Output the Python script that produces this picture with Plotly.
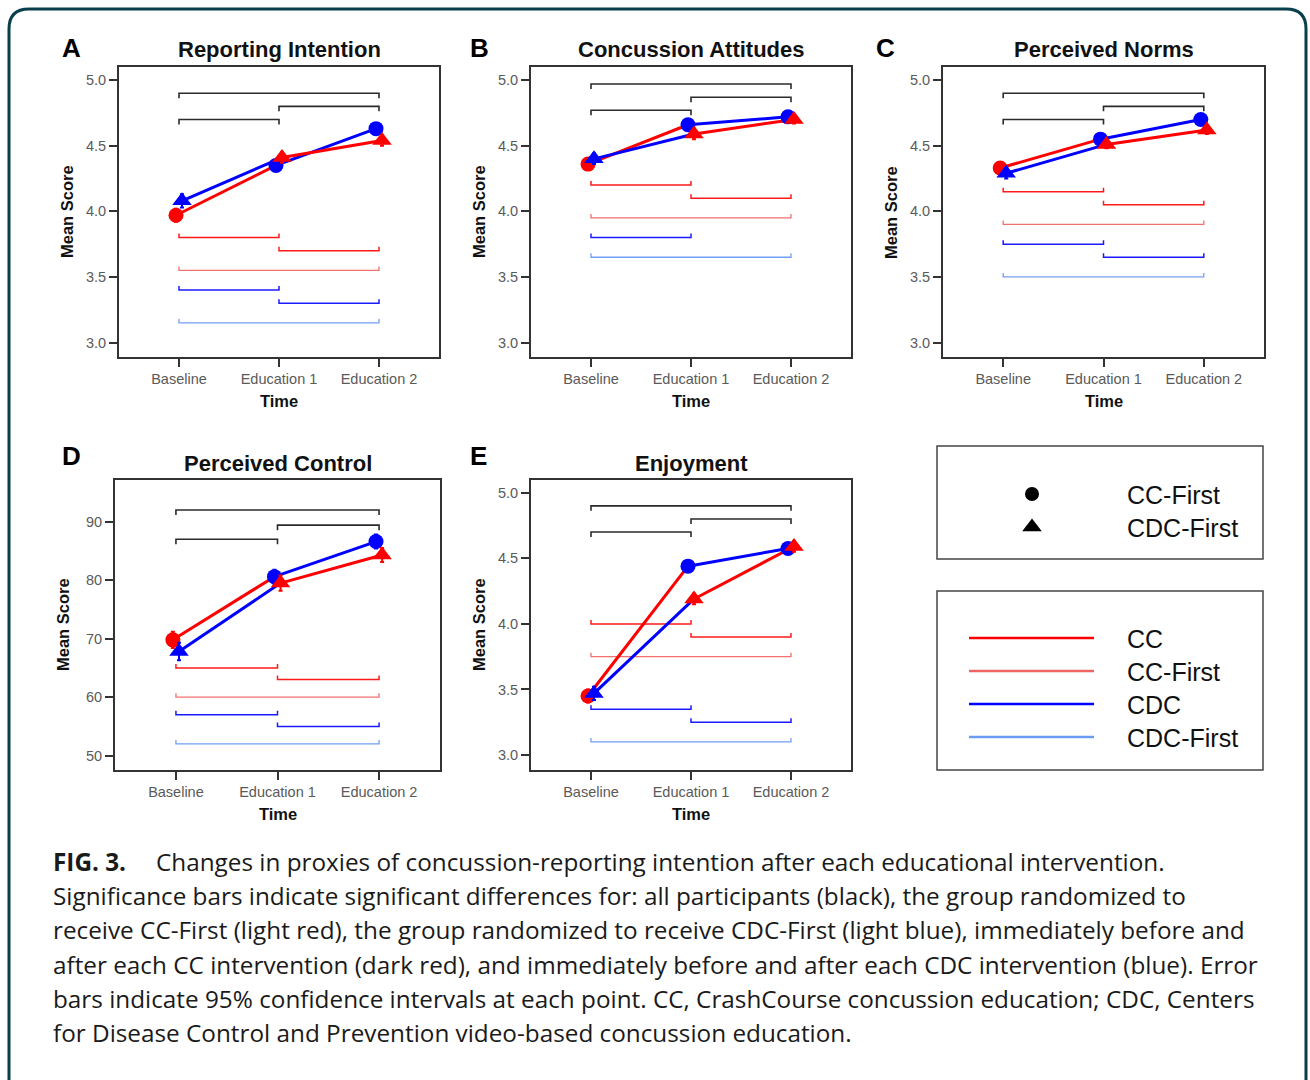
import plotly.graph_objects as go

W, H = 1310, 1080

# ---------------- data ----------------
categories = ["Baseline", "Education 1", "Education 2"]
panel_letters = ["A", "B", "C", "D", "E"]
panel_titles = ["Reporting Intention", "Concussion Attitudes", "Perceived Norms",
                "Perceived Control", "Enjoyment"]

# group means (circle = CC-First group, triangle = CDC-First group)
cc_first_means = {
    "A": [3.97, 4.35, 4.63],
    "B": [4.36, 4.66, 4.72],
    "C": [4.33, 4.55, 4.70],
    "D": [69.8, 80.6, 86.6],
    "E": [3.45, 4.44, 4.575],
}
cdc_first_means = {
    "A": [4.08, 4.41, 4.54],
    "B": [4.40, 4.59, 4.70],
    "C": [4.29, 4.51, 4.62],
    "D": [67.8, 79.5, 84.3],
    "E": [3.47, 4.19, 4.59],
}
# 95% CI half widths
cc_first_ci = {
    "A": [0.05, 0.04, 0.03], "B": [0.04, 0.03, 0.03], "C": [0.04, 0.03, 0.03],
    "D": [1.4, 1.2, 1.2], "E": [0.05, 0.04, 0.04],
}
cdc_first_ci = {
    "A": [0.05, 0.04, 0.04], "B": [0.04, 0.04, 0.03], "C": [0.04, 0.03, 0.03],
    "D": [1.5, 1.3, 1.2], "E": [0.05, 0.04, 0.04],
}

# significance bars: (group, start category index, end category index, y)
sig_bars = {
    "A": [("all", 0, 2, 4.90), ("all", 1, 2, 4.80), ("all", 0, 1, 4.70),
          ("CC", 0, 1, 3.80), ("CC", 1, 2, 3.70), ("CC-First", 0, 2, 3.55),
          ("CDC", 0, 1, 3.40), ("CDC", 1, 2, 3.30), ("CDC-First", 0, 2, 3.15)],
    "B": [("all", 0, 2, 4.97), ("all", 1, 2, 4.87), ("all", 0, 1, 4.77),
          ("CC", 0, 1, 4.20), ("CC", 1, 2, 4.10), ("CC-First", 0, 2, 3.95),
          ("CDC", 0, 1, 3.80), ("CDC-First", 0, 2, 3.65)],
    "C": [("all", 0, 2, 4.90), ("all", 1, 2, 4.80), ("all", 0, 1, 4.70),
          ("CC", 0, 1, 4.15), ("CC", 1, 2, 4.05), ("CC-First", 0, 2, 3.90),
          ("CDC", 0, 1, 3.75), ("CDC", 1, 2, 3.65), ("CDC-First", 0, 2, 3.50)],
    "D": [("all", 0, 2, 92.0), ("all", 1, 2, 89.4), ("all", 0, 1, 87.0),
          ("CC", 0, 1, 65.0), ("CC", 1, 2, 63.0), ("CC-First", 0, 2, 60.0),
          ("CDC", 0, 1, 57.0), ("CDC", 1, 2, 55.0), ("CDC-First", 0, 2, 52.0)],
    "E": [("all", 0, 2, 4.90), ("all", 1, 2, 4.80), ("all", 0, 1, 4.70),
          ("CC", 0, 1, 4.00), ("CC", 1, 2, 3.90), ("CC-First", 0, 2, 3.75),
          ("CDC", 0, 1, 3.35), ("CDC", 1, 2, 3.25), ("CDC-First", 0, 2, 3.10)],
}

y_ticks = {
    "A": [3.0, 3.5, 4.0, 4.5, 5.0], "B": [3.0, 3.5, 4.0, 4.5, 5.0],
    "C": [3.0, 3.5, 4.0, 4.5, 5.0], "D": [50, 60, 70, 80, 90],
    "E": [3.0, 3.5, 4.0, 4.5, 5.0],
}
y_tick_text = {
    "A": ["3.0", "3.5", "4.0", "4.5", "5.0"], "B": ["3.0", "3.5", "4.0", "4.5", "5.0"],
    "C": ["3.0", "3.5", "4.0", "4.5", "5.0"], "D": ["50", "60", "70", "80", "90"],
    "E": ["3.0", "3.5", "4.0", "4.5", "5.0"],
}

shape_legend_labels = ["CC-First", "CDC-First"]
line_legend_labels = ["CC", "CC-First", "CDC", "CDC-First"]

caption_head = "FIG. 3."
caption_lines = [
    "Changes in proxies of concussion-reporting intention after each educational intervention.",
    "Significance bars indicate significant differences for: all participants (black), the group randomized to",
    "receive CC-First (light red), the group randomized to receive CDC-First (light blue), immediately before and",
    "after each CC intervention (dark red), and immediately before and after each CDC intervention (blue). Error",
    "bars indicate 95% confidence intervals at each point. CC, CrashCourse concussion education; CDC, Centers",
    "for Disease Control and Prevention video-based concussion education.",
]

# ---------------- styles / layout ----------------
RED, BLUE = "#ff0000", "#0000ff"
COLORS = {"all": "#2b2b2b", "CC": "#ff1a1a", "CC-First": "#f27070",
          "CDC": "#1a1aff", "CDC-First": "#70a0f5"}
LEG_COLORS = {"CC": "#ff0000", "CC-First": "#f06464", "CDC": "#0000ff", "CDC-First": "#6b9cf5"}
FONT = "Liberation Sans, Arial, sans-serif"
CAP_FONT = "Open Sans, sans-serif"

# panel boxes in pixels: left, right, top, bottom
boxes = {
    "A": (119, 439, 67, 357),
    "B": (531, 851, 67, 357),
    "C": (943, 1264, 67, 357),
    "D": (115, 440, 480, 770),
    "E": (531, 851, 480, 770),
}
y_ranges = {"A": [2.89, 5.10], "B": [2.89, 5.10], "C": [2.89, 5.10],
            "D": [47.55, 97.12], "E": [2.886, 5.097]}
letter_pos = {"A": (71, 48), "B": (479, 48), "C": (885, 48), "D": (71, 456), "E": (478, 456)}

# segment colors and marker colors per group (CC-First receives CC then CDC)
circ_seg_colors = [RED, BLUE]
tri_seg_colors = [BLUE, RED]
circ_pt_colors = [RED, BLUE, BLUE]
tri_pt_colors = [BLUE, RED, RED]
DODGE = 0.03


def px(x):
    return x / W


def py(y):
    return 1 - y / H


fig = go.Figure()
annotations = []
shapes = []

for i, key in enumerate(panel_letters):
    n = i + 1
    xa = "x" if n == 1 else f"x{n}"
    ya = "y" if n == 1 else f"y{n}"
    left, right, top, bottom = boxes[key]
    yr = y_ranges[key]
    units_per_px = (yr[1] - yr[0]) / (bottom - top)
    xs = [1, 2, 3]

    # significance bars
    for grp, a, b, yv in sig_bars[key]:
        if grp == "all":
            t = -5 * units_per_px
            w = 1.6
        else:
            t = 4 * units_per_px
            w = 1.5 if grp in ("CC", "CDC") else 1.3
        x0, x1 = xs[a], xs[b]
        fig.add_trace(go.Scatter(
            x=[x0, x0, x1, x1], y=[yv + t, yv, yv, yv + t], mode="lines",
            line=dict(color=COLORS[grp], width=w), xaxis=xa, yaxis=ya,
            showlegend=False, hoverinfo="skip"))

    # group lines
    cm, tm = cc_first_means[key], cdc_first_means[key]
    cx = [x - DODGE for x in xs]
    tx = [x + DODGE for x in xs]
    for s in range(2):
        fig.add_trace(go.Scatter(x=cx[s:s + 2], y=cm[s:s + 2], mode="lines",
                                 line=dict(color=circ_seg_colors[s], width=3),
                                 xaxis=xa, yaxis=ya, showlegend=False, hoverinfo="skip"))
        fig.add_trace(go.Scatter(x=tx[s:s + 2], y=tm[s:s + 2], mode="lines",
                                 line=dict(color=tri_seg_colors[s], width=3),
                                 xaxis=xa, yaxis=ya, showlegend=False, hoverinfo="skip"))
    # markers with error bars
    for k in range(3):
        fig.add_trace(go.Scatter(
            x=[cx[k]], y=[cm[k]], mode="markers",
            marker=dict(symbol="circle", size=15, color=circ_pt_colors[k], line=dict(width=0)),
            error_y=dict(type="data", array=[cc_first_ci[key][k]], color=circ_pt_colors[k],
                         thickness=2, width=2),
            xaxis=xa, yaxis=ya, showlegend=False))
    for k in range(3):
        fig.add_trace(go.Scatter(
            x=[tx[k]], y=[tm[k]], mode="markers",
            marker=dict(symbol="triangle-up", size=17, color=tri_pt_colors[k], line=dict(width=0)),
            error_y=dict(type="data", array=[cdc_first_ci[key][k]], color=tri_pt_colors[k],
                         thickness=2, width=2),
            xaxis=xa, yaxis=ya, showlegend=False))

    xkey = "xaxis" if n == 1 else f"xaxis{n}"
    ykey = "yaxis" if n == 1 else f"yaxis{n}"
    fig.layout[xkey] = dict(
        domain=[px(left), px(right)], anchor=ya, range=[0.4, 3.6],
        tickvals=xs, ticktext=categories, ticks="outside", ticklen=8, tickwidth=2,
        tickcolor="#333333", showline=True, mirror=True, linecolor="#333333", linewidth=2,
        showgrid=False, zeroline=False, fixedrange=True,
        tickfont=dict(family=FONT, size=14.5, color="#5a5a5a"))
    fig.layout[ykey] = dict(
        domain=[py(bottom), py(top)], anchor=xa, range=yr,
        tickvals=y_ticks[key], ticktext=y_tick_text[key], ticks="outside", ticklen=8,
        tickwidth=1.5, tickcolor="#333333", showline=True, mirror=True,
        linecolor="#333333", linewidth=2, showgrid=False, zeroline=False, fixedrange=True,
        tickfont=dict(family=FONT, size=14.5, color="#5a5a5a"))

    cxp = (left + right) / 2
    # title
    annotations.append(dict(text=f"<b>{panel_titles[i]}</b>", x=px(cxp), y=py(top - 17),
                            xref="paper", yref="paper", showarrow=False,
                            xanchor="center", yanchor="middle",
                            font=dict(family=FONT, size=22, color="#111111")))
    # letter
    lx, ly = letter_pos[key]
    annotations.append(dict(text=f"<b>{key}</b>", x=px(lx), y=py(ly), xref="paper", yref="paper",
                            showarrow=False, xanchor="center", yanchor="middle",
                            font=dict(family=FONT, size=26, color="#000000")))
    # axis titles
    annotations.append(dict(text="<b>Mean Score</b>", x=px(left - 52), y=py((top + bottom) / 2),
                            xref="paper", yref="paper", showarrow=False, textangle=-90,
                            xanchor="center", yanchor="middle",
                            font=dict(family=FONT, size=16.5, color="#111111")))
    annotations.append(dict(text="<b>Time</b>", x=px(cxp), y=py(bottom + 44),
                            xref="paper", yref="paper", showarrow=False,
                            xanchor="center", yanchor="middle",
                            font=dict(family=FONT, size=16.5, color="#111111")))

# ---------------- legend boxes ----------------
LX0, LX1 = 937, 1263
shapes.append(dict(type="rect", xref="paper", yref="paper", x0=px(LX0), x1=px(LX1),
                   y0=py(559), y1=py(446), line=dict(color="#444444", width=1.5)))
shapes.append(dict(type="rect", xref="paper", yref="paper", x0=px(LX0), x1=px(LX1),
                   y0=py(770), y1=py(591), line=dict(color="#444444", width=1.5)))

# hidden axis for legend symbols, pixel units
fig.layout["xaxis6"] = dict(domain=[px(LX0 + 2), px(LX1 - 2)], range=[LX0 + 2, LX1 - 2],
                            visible=False, anchor="y6", fixedrange=True)
fig.layout["yaxis6"] = dict(domain=[py(768), py(448)], range=[768, 448], visible=False,
                            anchor="x6", fixedrange=True)
sym = ["circle", "triangle-up"]
sym_size = [14, 17]
for j, lab in enumerate(shape_legend_labels):
    yy = 494 + j * 33
    fig.add_trace(go.Scatter(x=[1032], y=[yy], mode="markers",
                             marker=dict(symbol=sym[j], size=sym_size[j], color="#000000"),
                             xaxis="x6", yaxis="y6", showlegend=False, hoverinfo="skip"))
    annotations.append(dict(text=lab, x=px(1125), y=py(yy + 1), xref="paper", yref="paper",
                            showarrow=False, xanchor="left", yanchor="middle",
                            font=dict(family=FONT, size=25, color="#111111")))
for j, lab in enumerate(line_legend_labels):
    yy = 638 + j * 33
    fig.add_trace(go.Scatter(x=[969, 1094], y=[yy, yy], mode="lines",
                             line=dict(color=LEG_COLORS[lab], width=2.5),
                             xaxis="x6", yaxis="y6", showlegend=False, hoverinfo="skip"))
    annotations.append(dict(text=lab, x=px(1125), y=py(yy + 1), xref="paper", yref="paper",
                            showarrow=False, xanchor="left", yanchor="middle",
                            font=dict(family=FONT, size=25, color="#111111")))

# ---------------- caption ----------------
cap_y = [861, 895, 929, 964, 998, 1032]
annotations.append(dict(text=f"<b>{caption_head}</b>", x=px(51), y=py(cap_y[0]), xref="paper",
                        yref="paper", showarrow=False, xanchor="left", yanchor="middle",
                        font=dict(family=CAP_FONT, size=24.3, color="#1a1a1a")))
for j, line in enumerate(caption_lines):
    annotations.append(dict(text=line, x=px(154 if j == 0 else 51), y=py(cap_y[j]),
                            xref="paper", yref="paper", showarrow=False,
                            xanchor="left", yanchor="middle",
                            font=dict(family=CAP_FONT, size=24.3, color="#1a1a1a")))

# ---------------- outer frame ----------------
r = 20
path = (f"M {px(9)},{py(1100)} L {px(9)},{py(9 + r)} Q {px(9)},{py(9)} {px(9 + r)},{py(9)} "
        f"L {px(1306 - r)},{py(9)} Q {px(1306)},{py(9)} {px(1306)},{py(9 + r)} "
        f"L {px(1306)},{py(1100)}")
shapes.append(dict(type="path", xref="paper", yref="paper", path=path,
                   line=dict(color="#083f4c", width=3)))

fig.update_layout(width=W, height=H, margin=dict(l=0, r=0, t=0, b=0),
                  paper_bgcolor="white", plot_bgcolor="rgba(0,0,0,0)",
                  annotations=annotations, shapes=shapes, showlegend=False)

fig.write_html("out.html", post_script="document.body.style.margin='0';",
               config={"displayModeBar": False})
